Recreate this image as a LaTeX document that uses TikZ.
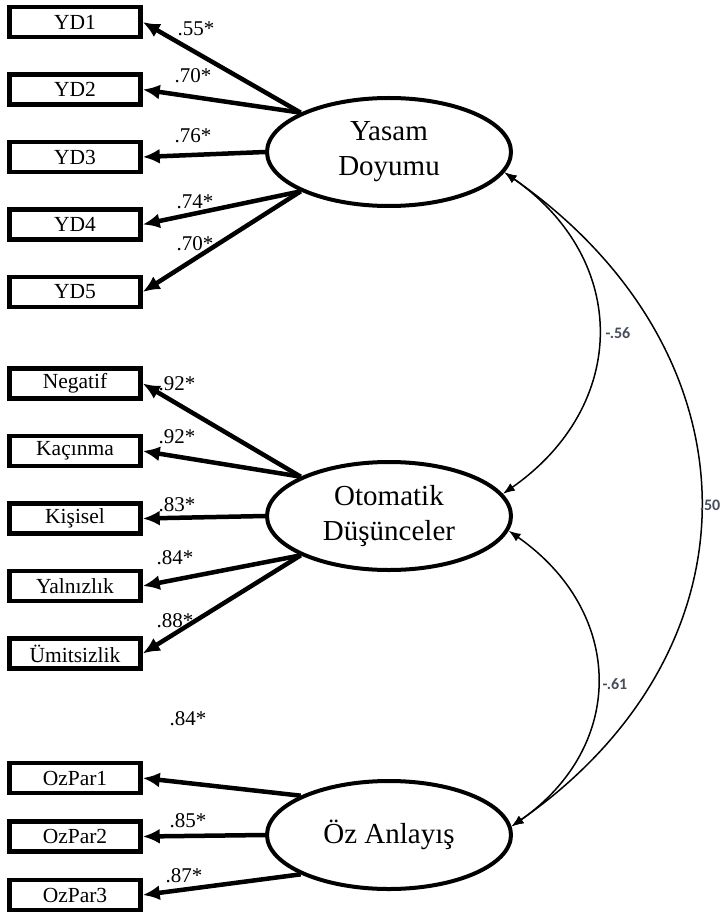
\documentclass[tikz,border=0pt]{standalone}
\usepackage{fontspec}
\setmainfont{Liberation Serif}
\newfontfamily\covfont{Carlito}
\usetikzlibrary{arrows.meta,shapes,positioning}
\definecolor{covgray}{RGB}{70,78,92}
\tikzstyle{indicator}=[rectangle,line width=4.5pt,draw=black,minimum width=131pt,
minimum height=30pt,inner sep=0pt,font=\fontsize{21.5}{24}\selectfont]
\tikzstyle{latent}=[ellipse,line width=4pt,draw=black,minimum width=244pt,
minimum height=108pt,inner sep=0pt,align=center,font=\fontsize{29}{35}\selectfont]
\tikzstyle{loading}=[line width=4.5pt,-{Latex[length=17pt,width=15pt]}]
\tikzstyle{covar}=[line width=1.5pt,{Latex[length=12pt,width=9pt]}-{Latex[length=12pt,width=9pt]},looseness=1.22]
\tikzstyle{coef}=[inner sep=0pt,font=\fontsize{21}{24}\selectfont]
\tikzstyle{covlabel}=[inner sep=0pt,text=covgray,font=\covfont\bfseries\fontsize{16}{18}\selectfont]

\begin{document}
\begin{tikzpicture}[x=1pt,y=1pt,node distance=67.5pt]
            \useasboundingbox (0,0) rectangle (723,-917);

            % Yasam Doyumu PART

            \node[latent] (ls) at (389,-152) {Yasam\\Doyumu};
            \node[indicator] (yd1) at (75,-22) {YD1};
            \node[indicator,below of=yd1] (yd2) {YD2};
            \node[indicator,below of=yd2] (yd3) {YD3};
            \node[indicator,below of=yd3] (yd4) {YD4};
            \node[indicator,below of=yd4] (yd5) {YD5};

            \path[loading] (ls.156) edge (yd1.east);
            \path[loading] (ls.156) edge (yd2.east);
            \path[loading] (ls.west) edge (yd3.east);
            \path[loading] (ls.204) edge (yd4.east);
            \path[loading] (ls.204) edge (yd5.east);

            \node[coef] at (196,-29) {.55*};
            \node[coef] at (193,-76) {.70*};
            \node[coef] at (193,-136) {.76*};
            \node[coef] at (195,-202) {.74*};
            \node[coef] at (195,-244) {.70*};

            % Otomatik Dusunceler PART

            \node[latent] (od) at (389,-516) {Otomatik\\Düşünceler};
            \node[indicator] (neg) at (75,-383.5) {Negatif};
            \node[indicator,below of=neg] (kac) {Kaçınma};
            \node[indicator,below of=kac] (kis) {Kişisel};
            \node[indicator,below of=kis] (yal) {Yalnızlık};
            \node[indicator,below of=yal] (umi) {Ümitsizlik};

            \path[loading] (od.156) edge (neg.east);
            \path[loading] (od.156) edge (kac.east);
            \path[loading] (od.west) edge (kis.east);
            \path[loading] (od.204) edge (yal.east);
            \path[loading] (od.204) edge (umi.east);

            \node[coef] at (177,-384) {.92*};
            \node[coef] at (177,-437) {.92*};
            \node[coef] at (177,-505) {.83*};
            \node[coef] at (175,-558) {.84*};
            \node[coef] at (175,-621) {.88*};

            % Oz Anlayis PART

            \node[latent] (oa) at (389,-835) {Öz Anlayış};
            \node[indicator] (ozp1) at (75,-778) {OzPar1};
            \node[indicator,below of=ozp1,node distance=58.5pt] (ozp2) {OzPar2};
            \node[indicator,below of=ozp2,node distance=58.5pt] (ozp3) {OzPar3};

            \path[loading] (oa.156) edge (ozp1.east);
            \path[loading] (oa.west) edge (ozp2.east);
            \path[loading] (oa.204) edge (ozp3.east);

            \node[coef] at (188,-719) {.84*};
            \node[coef] at (188,-821) {.85*};
            \node[coef] at (184,-876) {.87*};

            % Covariances

            \path[covar] (ls.-10) edge[out=-35,in=35] (od.11);
            \path[covar] (od.-7) edge[out=-35,in=35] (oa.4);
            \path[covar] (ls.-10) edge[out=-35,in=35] (oa.4);

            \node[covlabel] at (618,-333) {-.56};
            \node[covlabel] at (615,-684) {-.61};
            \node[covlabel] at (710,-505) {.50};

        \end{tikzpicture}
\end{document}
